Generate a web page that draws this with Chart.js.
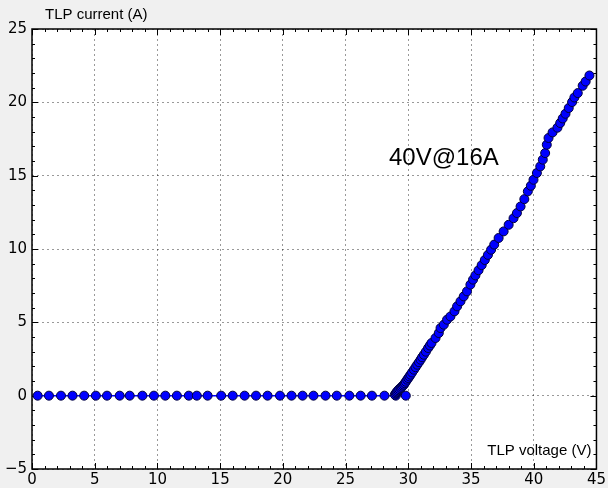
<!DOCTYPE html>
<html lang="en">
<head>
  <meta charset="UTF-8" />
  <title>TLP I-V curve</title>
  <script src="https://cdn.jsdelivr.net/npm/chart.js"></script>
  <style>
    html, body { margin: 0; padding: 0; background: #f0f0f0; }
    #tlpChart { display: block; }
  </style>
</head>
<body>
<canvas id="tlpChart" width="608" height="488"></canvas>
<script>
  // off-state sweep (current stays at 0 A)
  const offVoltage = [0.45, 1.35, 2.31, 3.23, 4.16, 5.09, 5.98, 6.99, 7.79, 8.80, 9.72,
    10.63, 11.55, 12.5, 13.14, 14.0, 15.08, 16.0, 16.95, 17.86, 18.78, 19.77, 20.69,
    21.57, 22.44, 23.4, 24.3, 25.3, 26.2, 27.1, 28.1, 29.0, 29.8];
  const offCurrent = [0, 0, 0, 0, 0, 0, 0, 0, 0, 0, 0, 0, 0, 0, 0, 0, 0, 0, 0, 0, 0, 0,
    0, 0, 0, 0, 0, 0, 0, 0, 0, 0, 0];

  // clamped part
  const onVoltage = [28.93, 29.0, 29.06, 29.12, 29.2, 29.28, 29.39, 29.47, 29.56, 29.65,
    29.72, 29.8, 29.91, 30.0, 30.09, 30.18, 30.3, 30.45, 30.58, 30.71, 30.85, 30.98,
    31.1, 31.24, 31.4, 31.58, 31.72, 31.85, 32.17, 32.43, 32.57, 32.83, 33.09, 33.36,
    33.68, 33.89, 34.16, 34.42, 34.68, 34.95, 35.16, 35.35, 35.6, 35.85, 36.1, 36.35,
    36.6, 36.85, 37.2, 37.6, 38.0, 38.39, 38.66, 38.95, 39.25, 39.53, 39.77, 39.98, 40.25,
    40.52, 40.72, 40.91, 41.04, 41.18, 41.5, 41.89, 42.11, 42.31, 42.53, 42.79, 43.06,
    43.24, 43.51, 43.9, 44.14, 44.44];
  const onCurrent = [0.07, 0.15, 0.22, 0.29, 0.37, 0.45, 0.52, 0.6, 0.68, 0.75,
    0.85, 0.95, 1.09, 1.2, 1.31, 1.43, 1.58, 1.77, 1.94, 2.11, 2.28, 2.45,
    2.62, 2.79, 3.0, 3.25, 3.42, 3.59, 3.93, 4.27, 4.61, 4.84, 5.18, 5.40,
    5.75, 6.09, 6.43, 6.77, 7.11, 7.57, 7.91, 8.2, 8.55, 8.9, 9.25, 9.6,
    9.95, 10.3, 10.75, 11.2, 11.65, 12.1, 12.45, 12.9, 13.4, 13.93, 14.31, 14.72, 15.18,
    15.63, 16.09, 16.54, 17.11, 17.57, 17.95, 18.27, 18.59, 18.9, 19.22, 19.61, 20.02,
    20.33, 20.63, 21.13, 21.42, 21.83];

  const xTitle = 'TLP voltage (V)';
  const yTitle = 'TLP current (A)';
  const note = '40V@16A';

  const points = [];
  offVoltage.forEach((v, i) => points.push({ x: v, y: offCurrent[i] }));
  onVoltage.forEach((v, i) => points.push({ x: v, y: onCurrent[i] }));

  const tickFont = { family: 'DejaVu Sans', size: 15 };
  const gridStyle = { color: 'rgba(0,0,0,0.4)', lineWidth: 1, drawTicks: false };

  // white plot area, black frame and inward ticks (major + minor) on all 4 sides
  const framePlugin = {
    id: 'frame',
    beforeDraw(chart) {
      const a = chart.chartArea, c = chart.ctx;
      c.save();
      c.fillStyle = '#ffffff';
      c.fillRect(a.left, a.top, a.right - a.left, a.bottom - a.top);
      c.restore();
    },
    beforeDatasetsDraw(chart) {
      const a = chart.chartArea, c = chart.ctx;
      const xs = chart.scales.x, ys = chart.scales.y;
      c.save();
      c.strokeStyle = '#000';
      c.lineWidth = 1;
      c.beginPath();
      for (let v = xs.min; v <= xs.max; v++) {
        const px = Math.round(xs.getPixelForValue(v)) + 0.5;
        const len = v % 5 === 0 ? 6 : 3;
        c.moveTo(px, a.bottom); c.lineTo(px, a.bottom - len);
        c.moveTo(px, a.top); c.lineTo(px, a.top + len);
      }
      for (let v = ys.min; v <= ys.max; v++) {
        const py = Math.round(ys.getPixelForValue(v)) + 0.5;
        const len = v % 5 === 0 ? 6 : 3;
        c.moveTo(a.left, py); c.lineTo(a.left + len, py);
        c.moveTo(a.right, py); c.lineTo(a.right - len, py);
      }
      c.stroke();
      c.lineWidth = 1.5;
      c.strokeRect(a.left, a.top, a.right - a.left, a.bottom - a.top);
      c.restore();
    },
    afterDraw(chart) {
      const a = chart.chartArea, c = chart.ctx;
      c.save();
      c.fillStyle = '#000';
      c.textBaseline = 'alphabetic';
      c.font = '15px "Liberation Sans", Arial, sans-serif';
      c.textAlign = 'left';
      c.fillText(yTitle, 45, 19);
      c.textAlign = 'right';
      c.fillText(xTitle, a.right - 5, a.bottom - 14);
      c.textAlign = 'left';
      c.font = '24px "Liberation Sans", Arial, sans-serif';
      c.fillText(note, 389, 165);
      c.restore();
    }
  };

  new Chart(document.getElementById('tlpChart').getContext('2d'), {
    type: 'scatter',
    data: {
      datasets: [{
        data: points,
        showLine: true,
        borderColor: '#0000ff',
        borderWidth: 1.5,
        pointRadius: 4.5,
        pointBackgroundColor: '#0000ff',
        pointBorderColor: '#00003a',
        pointBorderWidth: 1
      }]
    },
    options: {
      responsive: false,
      animation: false,
      devicePixelRatio: 1,
      layout: { padding: { top: 29, right: 10, left: 0, bottom: 0 } },
      plugins: { legend: { display: false }, tooltip: { enabled: false } },
      scales: {
        x: {
          type: 'linear', min: 0, max: 45,
          ticks: { stepSize: 5, color: '#000', font: tickFont, padding: 2, maxRotation: 0 },
          grid: gridStyle,
          border: { display: false, dash: [2, 3] },
          afterFit: s => { s.height = 19; }
        },
        y: {
          type: 'linear', min: -5, max: 25,
          ticks: {
            stepSize: 5, color: '#000', font: tickFont, padding: 5,
            callback: v => v < 0 ? '\u2212' + (-v) : String(v)
          },
          grid: gridStyle,
          border: { display: false, dash: [2, 3] },
          afterFit: s => { s.width = 32; }
        }
      }
    },
    plugins: [framePlugin]
  });
</script>
</body>
</html>
